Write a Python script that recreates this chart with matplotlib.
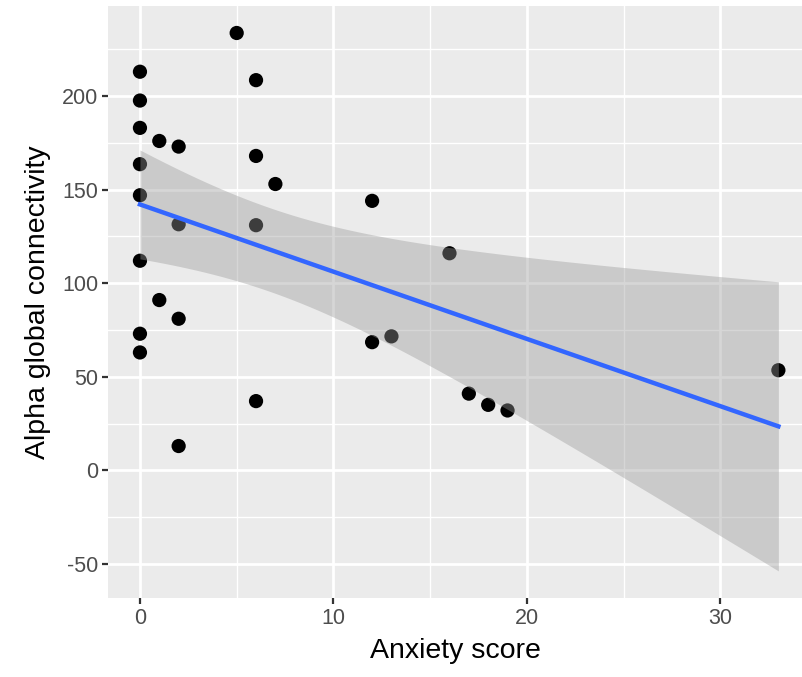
import numpy as np
import matplotlib.pyplot as plt
from matplotlib.ticker import MultipleLocator

# anxiety score vs. alpha global connectivity, one row per subject
anxiety = [0, 0, 0, 0, 0, 0, 0, 0,
           1, 1,
           2, 2, 2, 2,
           5,
           6, 6, 6, 6,
           7,
           12, 12,
           13,
           16, 17, 18, 19,
           33]
connectivity = [213, 197.6, 183, 163.6, 147, 112, 73, 63,
                176, 91,
                173, 131.5, 81, 13,
                233.7,
                208.5, 168, 131, 37,
                153,
                144, 68.5,
                71.6,
                116, 41, 35, 32,
                53.5]

x_ticks = [0, 10, 20, 30]
y_ticks = [-50, 0, 50, 100, 150, 200]

x = np.array(anxiety, dtype=float)
y = np.array(connectivity, dtype=float)

# linear fit with 95% confidence band (like geom_smooth(method = "lm"))
n = len(x)
slope, intercept = np.polyfit(x, y, 1)
resid = y - (intercept + slope * x)
s = np.sqrt(np.sum(resid ** 2) / (n - 2))
sxx = np.sum((x - x.mean()) ** 2)
t_crit = 2.0555  # t(0.975, df = 26)
xs = np.linspace(x.min(), x.max(), 80)
fit = intercept + slope * xs
se = s * np.sqrt(1.0 / n + (xs - x.mean()) ** 2 / sxx)
lower = fit - t_crit * se
upper = fit + t_crit * se

plt.rcParams['font.family'] = ['Liberation Sans', 'DejaVu Sans']
plt.rcParams['axes.unicode_minus'] = False

fig = plt.figure(figsize=(8.02, 6.77), dpi=100)
ax = fig.add_axes([0.1347, 0.117, 0.8653, 0.874])
ax.set_facecolor('#EBEBEB')

ax.scatter(x, y, s=105, color='black', edgecolors='none', zorder=3)
ax.fill_between(xs, lower, upper, color='#999999', alpha=0.4, linewidth=0, zorder=4)
ax.plot(xs, fit, color='#3366FF', linewidth=3.2, zorder=5)

# right side of the panel runs off the edge of the figure
xr = x.max() - x.min()
ax.set_xlim(x.min() - 0.05 * xr, x.max() + 0.037 * xr)
ylo = min(y.min(), lower.min())
yhi = max(y.max(), upper.max())
yr = yhi - ylo
ax.set_ylim(ylo - 0.05 * yr, yhi + 0.05 * yr)

ax.set_xticks(x_ticks)
ax.set_yticks(y_ticks)
ax.xaxis.set_minor_locator(MultipleLocator(5))
ax.yaxis.set_minor_locator(MultipleLocator(25))
ax.grid(which='major', color='white', linewidth=2.0)
ax.grid(which='minor', color='white', linewidth=1.0)
ax.set_axisbelow(True)

for side in ax.spines.values():
    side.set_visible(False)
ax.tick_params(which='major', length=4, width=1.6, color='#333333',
               labelcolor='#4D4D4D', labelsize=15.5, pad=3)
ax.tick_params(which='minor', length=0)

ax.set_xlabel('Anxiety score', fontsize=20.5, labelpad=7)
ax.set_ylabel('Alpha global connectivity', fontsize=20.5, labelpad=8)

fig.savefig('out.png', dpi=100)
